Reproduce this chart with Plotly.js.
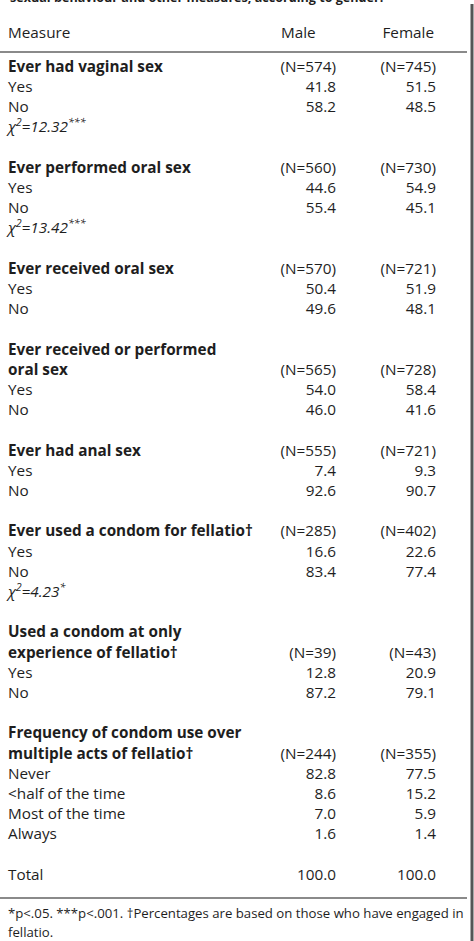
<!DOCTYPE html>
<html>
<head>
<meta charset="utf-8">
<script src="https://cdn.plot.ly/plotly-3.0.1.min.js"></script>
<style>html,body{margin:0;padding:0;background:#fff;}#chart{width:474px;height:941px;}</style>
</head>
<body>
<div id="chart"></div>
<script>
const columnHeaders = ["Measure", "Male", "Female"];
const sectionTitles = [
  ["Ever had vaginal sex"],
  ["Ever performed oral sex"],
  ["Ever received oral sex"],
  ["Ever received or performed", "oral sex"],
  ["Ever had anal sex"],
  ["Ever used a condom for fellatio†"],
  ["Used a condom at only", "experience of fellatio†"],
  ["Frequency of condom use over", "multiple acts of fellatio†"]
];
const maleN   = [574, 560, 570, 565, 555, 285, 39, 244];
const femaleN = [745, 730, 721, 728, 721, 402, 43, 355];
const itemLabels = [
  ["Yes", "No"], ["Yes", "No"], ["Yes", "No"], ["Yes", "No"],
  ["Yes", "No"], ["Yes", "No"], ["Yes", "No"],
  ["Never", "<half of the time", "Most of the time", "Always"]
];
const maleValues = [
  [41.8, 58.2], [44.6, 55.4], [50.4, 49.6], [54.0, 46.0],
  [7.4, 92.6], [16.6, 83.4], [12.8, 87.2], [82.8, 8.6, 7.0, 1.6]
];
const femaleValues = [
  [51.5, 48.5], [54.9, 45.1], [51.9, 48.1], [58.4, 41.6],
  [9.3, 90.7], [22.6, 77.4], [20.9, 79.1], [77.5, 15.2, 5.9, 1.4]
];
const chiSquare = ["12.32***", "13.42***", null, null, null, "4.23*", null, null];
const totalLabel = "Total";
const totalMale = 100.0;
const totalFemale = 100.0;
const titleText = "sexual behaviour and other measures, according to gender.";
const footnoteLines = [
  "*p<.05. ***p<.001. †Percentages are based on those who have engaged in",
  "fellatio."
];

// ---- Build rows (row index = y on the axis) ----
const esc = s => s.replace(/</g, "&lt;");
const boldRows = {y: [], text: []};
const plainRows = {y: [], text: []};
const maleCol = {y: [], text: []};
const femaleCol = {y: [], text: []};
let r = 0;
sectionTitles.forEach((lines, s) => {
  lines.forEach((ln, k) => {
    boldRows.y.push(r); boldRows.text.push(esc(ln));
    if (k === lines.length - 1) {
      maleCol.y.push(r); maleCol.text.push("(N=" + maleN[s] + ")");
      femaleCol.y.push(r); femaleCol.text.push("(N=" + femaleN[s] + ")");
    }
    r++;
  });
  itemLabels[s].forEach((lab, k) => {
    plainRows.y.push(r); plainRows.text.push(esc(lab));
    maleCol.y.push(r); maleCol.text.push(maleValues[s][k].toFixed(1));
    femaleCol.y.push(r); femaleCol.text.push(femaleValues[s][k].toFixed(1));
    r++;
  });
  if (chiSquare[s]) {
    const m = chiSquare[s].match(/^([\d.]+)(\**)$/);
    plainRows.y.push(r);
    plainRows.text.push("<i>χ<sup>2</sup>=" + m[1] + "<sup>" + m[2] + "</sup></i>");
    r++;
  }
  r++; // blank separator row
});
plainRows.y.push(r); plainRows.text.push(totalLabel);
maleCol.y.push(r); maleCol.text.push(totalMale.toFixed(1));
femaleCol.y.push(r); femaleCol.text.push(totalFemale.toFixed(1));

// ---- Layout geometry (pixels -> row units) ----
const W = 474, H = 941;
const rowPx = 20.2, firstRowPx = 68;
const toRow = px => (px - firstRowPx) / rowPx;
const xLabel = 8, xMale = 336, xFemale = 436;
const FONT = "Open Sans, sans-serif";
const ink = "#1e1e1e";
const fs = 15.3;

const common = {type: "scatter", mode: "text", hoverinfo: "skip", showlegend: false, cliponaxis: false};
const traces = [
  Object.assign({}, common, {x: plainRows.y.map(() => xLabel), y: plainRows.y, text: plainRows.text,
    textposition: "middle right", textfont: {family: FONT, size: fs, color: ink}}),
  Object.assign({}, common, {x: boldRows.y.map(() => xLabel), y: boldRows.y, text: boldRows.text,
    textposition: "middle right", textfont: {family: FONT, size: fs, color: ink, weight: "bold"}}),
  Object.assign({}, common, {x: maleCol.y.map(() => xMale), y: maleCol.y, text: maleCol.text,
    textposition: "middle left", textfont: {family: FONT, size: fs, color: ink}}),
  Object.assign({}, common, {x: femaleCol.y.map(() => xFemale), y: femaleCol.y, text: femaleCol.text,
    textposition: "middle left", textfont: {family: FONT, size: fs, color: ink}}),
  // header row
  Object.assign({}, common, {x: [xLabel, 281], y: [toRow(34), toRow(34)], text: [columnHeaders[0], columnHeaders[1]],
    textposition: "middle right", textfont: {family: FONT, size: fs, color: ink}}),
  Object.assign({}, common, {x: [434], y: [toRow(34)], text: [columnHeaders[2]],
    textposition: "middle left", textfont: {family: FONT, size: fs, color: ink}}),
  // footnote
  Object.assign({}, common, {x: [xLabel, xLabel], y: [toRow(915), toRow(934)], text: footnoteLines.map(esc),
    textposition: "middle right", textfont: {family: FONT, size: 13.2, color: ink}})
];

const layout = {
  width: W, height: H,
  margin: {l: 0, r: 0, t: 0, b: 0},
  paper_bgcolor: "#fff", plot_bgcolor: "#fff",
  xaxis: {range: [0, W], visible: false, fixedrange: true},
  yaxis: {range: [toRow(H), toRow(0)], visible: false, fixedrange: true},
  annotations: [
    {text: "<b>" + titleText + "</b>", xref: "paper", yref: "paper", x: xLabel / W, xanchor: "left",
     y: 1, yanchor: "middle", yshift: 3, showarrow: false, font: {family: FONT, size: 12.6, color: ink}}
  ],
  shapes: [
    {type: "line", xref: "x", yref: "y", x0: 0, x1: 467, y0: toRow(52), y1: toRow(52), line: {color: "#8a8a8a", width: 2}},
    {type: "line", xref: "x", yref: "y", x0: 0, x1: 467, y0: toRow(898), y1: toRow(898), line: {color: "#8a8a8a", width: 2}},
    {type: "line", xref: "x", yref: "y", x0: 472, x1: 472, y0: toRow(4), y1: toRow(H), line: {color: "#555", width: 3}}
  ]
};

Plotly.newPlot("chart", traces, layout, {displayModeBar: false, staticPlot: true});
</script>
</body>
</html>
